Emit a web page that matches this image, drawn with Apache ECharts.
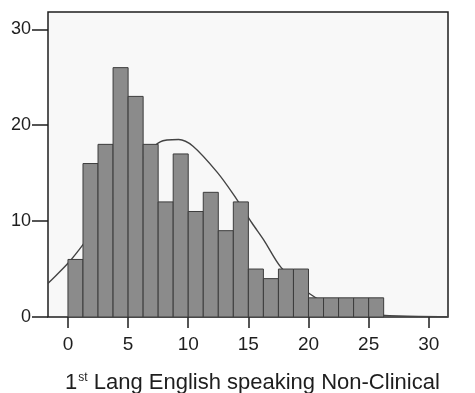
<!DOCTYPE html>
<html>
<head>
<meta charset="utf-8">
<script src="https://cdn.jsdelivr.net/npm/echarts@6/dist/echarts.min.js"></script>
<style>
  html, body { margin: 0; padding: 0; background: #ffffff; }
  #chart { width: 475px; height: 393px; }
</style>
</head>
<body>
<div id="chart"></div>
<script>
// Histogram bins: lower edge, upper edge, count
const binStarts = [0, 1.25, 2.5, 3.75, 5, 6.25, 7.5, 8.75, 10, 11.25, 12.5, 13.75, 15, 16.25, 17.5, 18.75, 20, 21.25, 22.5, 23.75, 25];
const binEnds   = [1.25, 2.5, 3.75, 5, 6.25, 7.5, 8.75, 10, 11.25, 12.5, 13.75, 15, 16.25, 17.5, 18.75, 20, 21.25, 22.5, 23.75, 25, 26.25];
const counts    = [6, 16, 18, 26, 23, 18, 12, 17, 11, 13, 9, 12, 5, 4, 5, 5, 2, 2, 2, 2, 2];

// Fitted normal curve, sampled points [x, frequency]
const curveX = [-1.66, -1.5, 0, 1.28, 2.5, 5, 7.67, 9.2, 10.4, 12.4, 13.8, 15.3, 16.3, 17.7, 20, 22.5, 25, 27.5, 31.6];
const curveY = [3.5, 3.7, 5.6, 7.6, 9.8, 14.6, 18.26, 18.5, 17.8, 15.1, 12.7, 9.8, 8.0, 5.2, 2.5, 0.9, 0.3, 0.1, 0.02];

// Axis tick labels
const xTicks = [0, 5, 10, 15, 20, 25, 30];
const yTicks = [0, 10, 20, 30];

const FONT = '"Liberation Sans", Arial, sans-serif';
const INK = '#1e1e1e';

const chart = echarts.init(document.getElementById('chart'), null, { renderer: 'canvas' });

const barData = binStarts.map((s, i) => [s, binEnds[i], counts[i]]);
const curveData = curveX.map((x, i) => [x, curveY[i]]);

chart.setOption({
  animation: false,
  backgroundColor: '#ffffff',
  title: {
    left: 60,
    top: 367,
    text: '{a|1}{s|st}{a| Lang English speaking Non-Clinical}',
    textStyle: {
      fontWeight: 'normal',
      rich: {
        a: { fontFamily: FONT, fontSize: 22, fontWeight: 'normal', color: INK },
        s: { fontFamily: FONT, fontSize: 12, fontWeight: 'normal', color: INK, verticalAlign: 'top', padding: [0, 0, 10, 1] }
      }
    }
  },
  grid: {
    left: 48, right: 27, top: 12, bottom: 76,
    show: true,
    backgroundColor: '#f8f8f8',
    borderColor: INK,
    borderWidth: 1.5
  },
  xAxis: {
    type: 'value',
    min: -1.66,
    max: 31.6,
    axisLine: { show: false, onZero: false },
    splitLine: { show: false },
    axisTick: {
      show: true,
      customValues: xTicks,
      length: 11,
      inside: false,
      lineStyle: { color: INK, width: 1.5 }
    },
    axisLabel: {
      customValues: xTicks,
      fontFamily: FONT,
      fontSize: 19,
      color: INK,
      margin: 18
    }
  },
  yAxis: {
    type: 'value',
    min: 0,
    max: 31.8,
    interval: 10,
    axisLine: { show: false, onZero: false },
    splitLine: { show: false },
    axisTick: {
      show: true,
      customValues: yTicks,
      length: 16,
      inside: false,
      lineStyle: { color: INK, width: 1.5 }
    },
    axisLabel: {
      customValues: yTicks,
      fontFamily: FONT,
      fontSize: 18,
      color: INK,
      margin: 17
    }
  },
  series: [
    {
      type: 'line',
      data: curveData,
      smooth: 0.3,
      showSymbol: false,
      z: 1,
      lineStyle: { color: '#444444', width: 1.4 }
    },
    {
      type: 'custom',
      z: 2,
      data: barData,
      encode: { x: [0, 1], y: 2 },
      renderItem: function (params, api) {
        const p0 = api.coord([api.value(0), 0]);
        const p1 = api.coord([api.value(1), api.value(2)]);
        return {
          type: 'rect',
          shape: { x: p0[0], y: p1[1], width: p1[0] - p0[0], height: p0[1] - p1[1] },
          style: { fill: '#8b8b8b', stroke: '#3c3c3c', lineWidth: 1 }
        };
      }
    }
  ]
});
</script>
</body>
</html>
